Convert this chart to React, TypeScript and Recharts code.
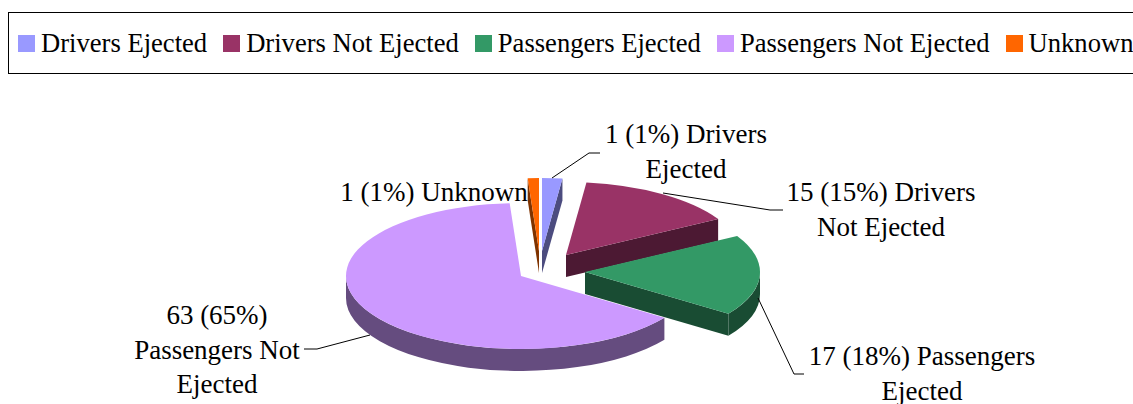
import { PieChart, Pie, Legend, Tooltip } from "recharts";

const categories = ["Drivers Ejected", "Drivers Not Ejected", "Passengers Ejected", "Passengers Not Ejected", "Unknown"];
const counts = [1, 15, 17, 63, 1];
const percents = [1, 15, 18, 65, 1];

const topColors = ["#9999FF", "#993366", "#339966", "#CC99FF", "#FF6600"];
const sideColors = ["#4C4C7F", "#4C1933", "#194C33", "#654C7F", "#7F3300"];

// how far each wedge is pulled out of the pie, in px
const pullX = [21, 45, 64, 0, 18];
const pullY = [-20, -16, 1, 5, -20];
// Excel's 3d view bends the wedge edges away from their true angle
const wedgeStretch = [[0, 3], [3, 1], [1, 2.5], [2.5, 0], [0, 0]];

const labelLines = [
  ["1 (1%) Drivers", "Ejected"],
  ["15 (15%) Drivers", "Not Ejected"],
  ["17 (18%) Passengers", "Ejected"],
  ["63 (65%)", "Passengers Not", "Ejected"],
  ["1 (1%) Unknown"],
];
const labelSpots = [
  { x: 686, y: 143 },
  { x: 881, y: 201 },
  { x: 922, y: 365 },
  { x: 217, y: 324 },
  { x: 434, y: 201 },
];
const leaderLines = [
  "M552 178 L589 153 L600 153",
  "M663 193 L770 210 L783 210",
  "M758 298 L794 374 L804 374",
  "M370 335 L317 349 L304 349",
  "",
];

const data = categories.map((name, i) => ({ name, value: counts[i], percent: percents[i] }));

const FONT = "'Liberation Serif', 'Times New Roman', serif";
const TILT = 73 / 175;
const DEPTH = 22;
const CHART_W = 1133;
const CHART_H = 404;

// wedge drawn from recharts' angles, squashed into a tilted ellipse with a rim
function Wedge3D(props: any) {
  const { cx, cy, outerRadius, startAngle, endAngle, index } = props;
  const rx = outerRadius;
  const ry = outerRadius * TILT;
  const ox = cx + pullX[index];
  const oy = cy + pullY[index];

  // clockwise degrees from 12 o'clock
  const a0 = 90 - startAngle + wedgeStretch[index][0];
  const a1 = 90 - endAngle + wedgeStretch[index][1];
  const pt = (deg: number, drop = 0) => {
    const r = (deg * Math.PI) / 180;
    return [ox + rx * Math.sin(r), oy - ry * Math.cos(r) + drop];
  };
  const arc = (from: number, to: number) => {
    const [x, y] = pt(to);
    return `A${rx} ${ry} 0 ${to - from > 180 ? 1 : 0} 1 ${x} ${y}`;
  };
  const [sx, sy] = pt(a0);
  const [ex, ey] = pt(a1);

  const sides: string[] = [];
  if (Math.sin((a0 * Math.PI) / 180) < -0.001) {
    sides.push(`M${ox} ${oy}L${sx} ${sy}L${sx} ${sy + DEPTH}L${ox} ${oy + DEPTH}Z`);
  }
  if (Math.sin((a1 * Math.PI) / 180) > 0.001) {
    sides.push(`M${ox} ${oy}L${ex} ${ey}L${ex} ${ey + DEPTH}L${ox} ${oy + DEPTH}Z`);
  }
  const rimFrom = Math.max(a0, 90);
  const rimTo = Math.min(a1, 270);
  if (rimTo > rimFrom) {
    const [fx, fy] = pt(rimFrom);
    const [tx, ty] = pt(rimTo);
    const [bx, by] = pt(rimFrom, DEPTH);
    sides.push(
      `M${fx} ${fy}${arc(rimFrom, rimTo)}L${tx} ${ty + DEPTH}` +
        `A${rx} ${ry} 0 ${rimTo - rimFrom > 180 ? 1 : 0} 0 ${bx} ${by}Z`
    );
  }

  return (
    <g>
      {sides.map((d, i) => (
        <path key={i} d={d} fill={sideColors[index]} />
      ))}
      <path d={`M${ox} ${oy}L${sx} ${sy}${arc(a0, a1)}Z`} fill={topColors[index]} />
    </g>
  );
}

function SliceLabel(props: any) {
  const { index } = props;
  const lines = labelLines[index];
  const spot = labelSpots[index];
  return (
    <g>
      {leaderLines[index] && <path d={leaderLines[index]} fill="none" stroke="#000" strokeWidth={1} />}
      <text x={spot.x} y={spot.y} textAnchor="middle" fontFamily={FONT} fontSize={27} fill="#000">
        {lines.map((line, i) => (
          <tspan key={i} x={spot.x} dy={i === 0 ? 0 : 34.7}>
            {line}
          </tspan>
        ))}
      </text>
    </g>
  );
}

function LegendBox({ payload }: any) {
  return (
    <div
      style={{
        position: "absolute",
        left: 8,
        top: 12,
        width: 1140,
        height: 60,
        border: "1px solid #000",
        display: "flex",
        alignItems: "center",
        fontFamily: FONT,
        fontSize: 26.6,
        color: "#000",
        whiteSpace: "nowrap",
        boxSizing: "content-box",
      }}
    >
      {(payload || []).map((item: any, i: number) => (
        <span key={item.value} style={{ display: "flex", alignItems: "center", marginLeft: i === 0 ? 9 : 16 }}>
          <span style={{ width: 17, height: 17, background: topColors[i], marginRight: 6 }} />
          {item.value}
        </span>
      ))}
    </div>
  );
}

export default function App() {
  return (
    <div style={{ position: "absolute", left: 0, top: 0, width: CHART_W, height: CHART_H, overflow: "hidden", background: "#fff" }}>
      <PieChart width={CHART_W} height={CHART_H} margin={{ top: 0, right: 0, bottom: 0, left: 0 }}>
        <Pie
          data={data}
          dataKey="value"
          nameKey="name"
          cx={521}
          cy={271}
          outerRadius={175}
          startAngle={90}
          endAngle={-270}
          stroke="none"
          isAnimationActive={false}
          shape={Wedge3D}
          label={SliceLabel}
          labelLine={false}
        />
        <Legend content={LegendBox} wrapperStyle={{ position: "absolute", left: 0, top: 0, width: 0, height: 0 }} />
        <Tooltip />
      </PieChart>
    </div>
  );
}
